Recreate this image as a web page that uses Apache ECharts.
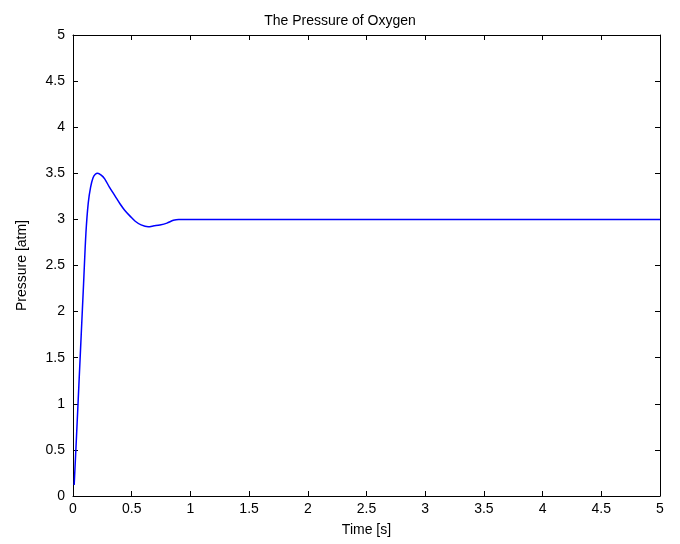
<!DOCTYPE html>
<html><head><meta charset="utf-8">
<script src="https://cdn.jsdelivr.net/npm/echarts@6/dist/echarts.min.js"></script>
<style>html,body{margin:0;padding:0;background:#fff}#c{width:680px;height:544px}</style>
</head><body><div id="c"></div>
<script>
const timeValues = [0.01, 0.03, 0.05, 0.07, 0.09, 0.11, 0.13, 0.15, 0.17, 0.19, 0.21, 0.24, 0.27, 0.31, 0.36, 0.40, 0.44, 0.49, 0.53, 0.58, 0.64, 0.69, 0.74, 0.80, 0.855, 0.9, 1.5, 2.5, 3.5, 4.5, 5.0];
const pressureValues = [0.12, 0.65, 1.2, 1.75, 2.3, 2.85, 3.18, 3.35, 3.45, 3.49, 3.50, 3.48, 3.44, 3.35, 3.25, 3.17, 3.10, 3.03, 2.98, 2.94, 2.92, 2.93, 2.94, 2.96, 2.99, 3.0, 3.0, 3.0, 3.0, 3.0, 3.0];
const xTicks = [0, 0.5, 1, 1.5, 2, 2.5, 3, 3.5, 4, 4.5, 5];
const yTicks = [0, 0.5, 1, 1.5, 2, 2.5, 3, 3.5, 4, 4.5, 5];
const titleText = 'The Pressure of Oxygen';
const xName = 'Time [s]';
const yName = 'Pressure [atm]';

const font = 'Liberation Sans, Arial, sans-serif';
const chart = echarts.init(document.getElementById('c'));
const lineStyle = {color: '#000', width: 1};
function xAxis(pos, show) {
  return {
    type: 'value', position: pos, min: xTicks[0], max: xTicks[xTicks.length-1], interval: 0.5,
    name: show ? xName : '', nameLocation: 'middle', nameGap: 27,
    nameTextStyle: {fontFamily: font, fontSize: 14, color: '#000'},
    axisLine: {show: true, onZero: false, lineStyle},
    axisTick: {show: true, inside: true, length: 5, lineStyle},
    axisLabel: {show: show, fontFamily: font, fontSize: 14, color: '#000', margin: 6},
    splitLine: {show: false}
  };
}
function yAxis(pos, show) {
  return {
    type: 'value', position: pos, min: yTicks[0], max: yTicks[yTicks.length-1], interval: 0.5,
    name: show ? yName : '', nameLocation: 'middle', nameGap: 44, nameRotate: 90,
    nameTextStyle: {fontFamily: font, fontSize: 14, color: '#000'},
    axisLine: {show: true, onZero: false, lineStyle},
    axisTick: {show: true, inside: true, length: 5, lineStyle},
    axisLabel: {show: show, fontFamily: font, fontSize: 14, color: '#000', margin: 8},
    splitLine: {show: false}
  };
}
chart.setOption({
  animation: false,
  backgroundColor: '#fff',
  title: {text: titleText, left: 'center', top: 9, textStyle: {fontFamily: font, fontSize: 14, fontWeight: 'normal', color: '#000'}},
  grid: {left: 73, right: 20, top: 35, bottom: 48},
  xAxis: [xAxis('bottom', true), xAxis('top', false)],
  yAxis: [yAxis('left', true), yAxis('right', false)],
  series: [{
    type: 'line', xAxisIndex: 0, yAxisIndex: 0, showSymbol: false, smooth: 0.3,
    data: timeValues.map((t, i) => [t, pressureValues[i]]),
    lineStyle: {color: '#0000ff', width: 1.5}
  }]
});
</script></body></html>
